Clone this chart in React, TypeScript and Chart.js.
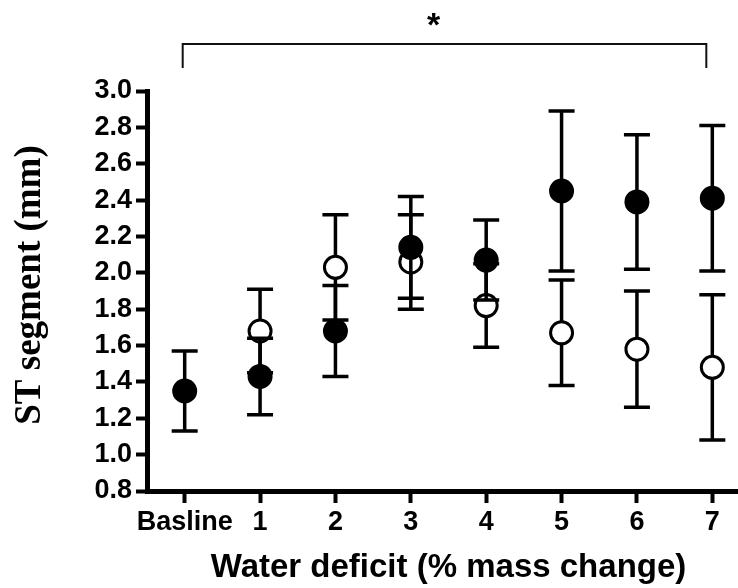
import React, { useEffect, useRef } from 'react';
import { Chart, registerables } from 'chart.js';

Chart.register(...registerables);

const categories = ['Basline', '1', '2', '3', '4', '5', '6', '7'];
const filledMean = [1.35, 1.43, 1.68, 2.14, 2.07, 2.45, 2.39, 2.41];
const filledErr = [0.22, 0.21, 0.25, 0.28, 0.22, 0.44, 0.37, 0.4];
const openMean = [null, 1.68, 2.03, 2.06, 1.82, 1.67, 1.58, 1.48];
const openErr = [null, 0.23, 0.29, 0.26, 0.23, 0.29, 0.32, 0.4];
const yTicks = [0.8, 1.0, 1.2, 1.4, 1.6, 1.8, 2.0, 2.2, 2.4, 2.6, 2.8, 3.0];
const yTitle = 'ST segment (mm)';
const xTitle = 'Water deficit (% mass change)';
const bracketFrom = 0;
const bracketTo = 7;
const bracketLabel = '*';

const errorsByDataset = [filledErr, openErr];

const errorBarPlugin = {
  id: 'errorBars',
  beforeDatasetDraw(chart: any, args: any) {
    const errs = errorsByDataset[args.index];
    const ds = chart.data.datasets[args.index];
    const yScale = chart.scales.y;
    const ctx = chart.ctx;
    ctx.save();
    ctx.strokeStyle = '#000';
    ctx.lineWidth = 3.5;
    ctx.lineCap = 'butt';
    args.meta.data.forEach((pt: any, i: number) => {
      const m = ds.data[i];
      const e = errs[i];
      if (m == null || e == null) return;
      const x = pt.x;
      const yt = yScale.getPixelForValue(m + e);
      const yb = yScale.getPixelForValue(m - e);
      ctx.beginPath();
      ctx.moveTo(x, yt);
      ctx.lineTo(x, yb);
      ctx.moveTo(x - 13, yt);
      ctx.lineTo(x + 13, yt);
      ctx.moveTo(x - 13, yb);
      ctx.lineTo(x + 13, yb);
      ctx.stroke();
    });
    ctx.restore();
  },
};

const annotationPlugin = {
  id: 'annotations',
  afterDraw(chart: any) {
    const xs = chart.scales.x;
    const ys = chart.scales.y;
    const ctx = chart.ctx;
    const x1 = xs.getPixelForValue(bracketFrom) - 2;
    const x2 = xs.getPixelForValue(bracketTo) - 6;
    const yTop = 44;
    const yBot = 68;
    ctx.save();
    ctx.strokeStyle = '#111';
    ctx.lineWidth = 2;
    ctx.beginPath();
    ctx.moveTo(x1, yBot);
    ctx.lineTo(x1, yTop);
    ctx.lineTo(x2, yTop);
    ctx.lineTo(x2, yBot);
    ctx.stroke();
    ctx.fillStyle = '#000';
    ctx.font = 'bold 34px "Liberation Sans", Arial, sans-serif';
    ctx.textAlign = 'center';
    ctx.textBaseline = 'alphabetic';
    ctx.fillText(bracketLabel, (x1 + x2) / 2 - 11, 36);

    // y-axis title
    const cy = (ys.top + ys.bottom) / 2 - 6;
    ctx.translate(30, cy);
    ctx.rotate(-Math.PI / 2);
    ctx.font = 'bold 37px "Liberation Serif", "Times New Roman", serif';
    ctx.textAlign = 'center';
    ctx.textBaseline = 'middle';
    ctx.fillText(yTitle, 0, 0);
    ctx.restore();
  },
};

export default function App() {
  const ref = useRef<HTMLCanvasElement>(null);

  useEffect(() => {
    document.body.style.margin = '0';
    const canvas = ref.current;
    if (!canvas) return;
    const chart = new Chart(canvas, {
      type: 'line',
      data: {
        labels: categories,
        datasets: [
          {
            label: 'Filled',
            data: filledMean as any,
            showLine: false,
            pointRadius: 11,
            pointHoverRadius: 11,
            pointBorderWidth: 3,
            pointBackgroundColor: '#000',
            pointBorderColor: '#000',
            borderColor: '#000',
            backgroundColor: '#000',
          },
          {
            label: 'Open',
            data: openMean as any,
            showLine: false,
            pointRadius: 11,
            pointHoverRadius: 11,
            pointBorderWidth: 3,
            pointBackgroundColor: '#fff',
            pointBorderColor: '#000',
            borderColor: '#000',
            backgroundColor: '#fff',
          },
        ],
      },
      options: {
        responsive: false,
        animation: false,
        clip: false as any,
        layout: { autoPadding: false, padding: { top: 91, right: 0, bottom: 0, left: 0 } },
        plugins: {
          legend: { display: false },
          tooltip: { enabled: false },
        },
        scales: {
          x: {
            type: 'category',
            offset: true,
            grid: {
              display: true,
              drawOnChartArea: false,
              drawTicks: true,
              tickLength: 12,
              tickWidth: 4,
              tickColor: '#000',
              offset: false,
            },
            border: { display: true, width: 5, color: '#000' },
            ticks: {
              color: '#000',
              padding: 3,
              maxRotation: 0,
              autoSkip: false,
              font: { family: '"Liberation Sans", Arial, sans-serif', size: 27, weight: 'bold' },
            },
            title: {
              display: true,
              text: xTitle,
              color: '#000',
              padding: { top: 0, bottom: 0 },
              font: { family: '"Liberation Sans", Arial, sans-serif', size: 33, weight: 'bold' },
            },
            afterFit: (axis: any) => {
              axis.height = 97;
              axis.paddingLeft = 0;
              axis.paddingRight = 0;
            },
          },
          y: {
            type: 'linear',
            min: 0.8,
            max: 3.0,
            grid: {
              display: true,
              drawOnChartArea: false,
              drawTicks: true,
              tickLength: 11,
              tickWidth: 4,
              tickColor: '#000',
            },
            border: { display: true, width: 5, color: '#000' },
            afterBuildTicks: (axis: any) => {
              axis.ticks = yTicks.map((v) => ({ value: v }));
            },
            ticks: {
              color: '#000',
              padding: 4,
              callback: (v: any) => Number(v).toFixed(1),
              font: { family: '"Liberation Sans", Arial, sans-serif', size: 27, weight: 'bold' },
            },
            title: { display: false },
            afterFit: (axis: any) => {
              axis.width = 147;
              axis.paddingTop = 0;
              axis.paddingBottom = 0;
            },
          },
        },
      },
      plugins: [errorBarPlugin, annotationPlugin],
    });
    return () => chart.destroy();
  }, []);

  return (
    <div
      style={{
        position: 'absolute',
        left: 0,
        top: 0,
        width: 738,
        height: 588,
        overflow: 'hidden',
        background: '#fff',
      }}
    >
      <canvas ref={ref} width={750} height={588} style={{ display: 'block', width: 750, height: 588 }} />
    </div>
  );
}
